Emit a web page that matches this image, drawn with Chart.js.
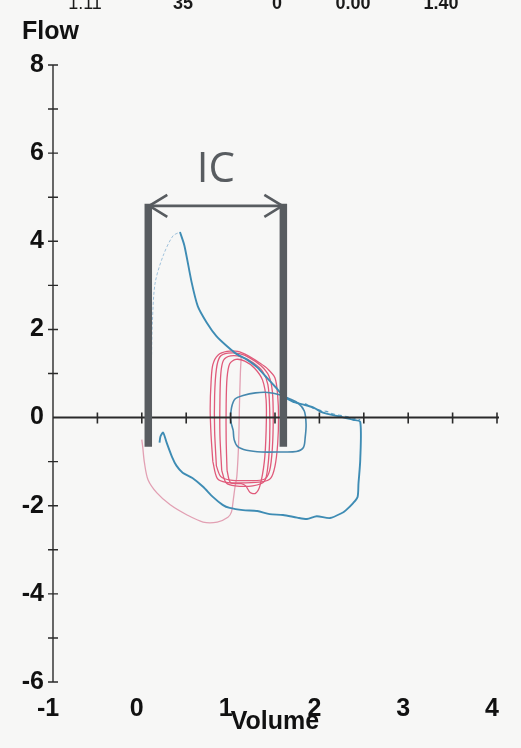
<!DOCTYPE html>
<html>
<head>
<meta charset="utf-8">
<script src="https://cdn.jsdelivr.net/npm/chart.js@4/dist/chart.umd.min.js"></script>
<style>
  html, body { margin: 0; padding: 0; background: #f7f7f6; }
  canvas { display: block; }
</style>
</head>
<body>
<canvas id="flowVolume" width="521" height="748"></canvas>
<script>
// Axis values
const volumeTicks = [-1, 0, 1, 2, 3, 4];
const flowTicks = [-6, -4, -2, 0, 2, 4, 6, 8];
const flowMarks = [-6, -5, -4, -3, -2, -1, 0, 1, 2, 3, 4, 5, 6, 7, 8];
const volumeMarks = [-0.5, 0, 0.5, 1, 1.5, 2, 2.5, 3, 3.5, 4];

// Values printed along the top edge of the sheet
const headerValues = ['1.11', '35', '0', '0.00', '1.40'];

// Maximal effort loop: [volume, flow]
const maxRise = [[0.10, -0.05], [0.10, 0.6], [0.11, 1.4], [0.12, 2.2], [0.15, 3.05], [0.24, 3.67], [0.35, 4.12], [0.43, 4.21]];
const maxLoop = [
  [0.43, 4.21], [0.48, 3.90], [0.56, 3.08], [0.63, 2.53], [0.73, 2.16], [0.84, 1.85], [0.96, 1.62],
  [1.07, 1.44], [1.18, 1.32], [1.30, 1.14], [1.41, 0.90], [1.52, 0.66], [1.59, 0.50], [1.70, 0.36],
  [1.81, 0.30], [1.93, 0.23], [2.04, 0.11], [2.23, 0.02], [2.38, -0.05], [2.46, -0.10], [2.46, -0.96],
  [2.44, -1.50], [2.43, -1.80], [2.38, -1.94], [2.30, -2.10], [2.26, -2.16], [2.12, -2.28], [1.97, -2.24],
  [1.86, -2.30], [1.75, -2.27], [1.59, -2.21], [1.44, -2.19], [1.30, -2.12], [1.14, -2.10], [0.99, -2.05],
  [0.91, -1.98], [0.80, -1.80], [0.69, -1.57], [0.57, -1.37], [0.46, -1.25], [0.39, -1.09], [0.34, -0.89],
  [0.28, -0.57], [0.24, -0.34], [0.21, -0.43], [0.20, -0.57]
];
const maxTail = [[1.84, 0.32], [1.92, 0.22], [2.00, 0.17], [2.08, 0.14], [2.16, 0.08], [2.26, 0.04], [2.36, 0.00], [2.46, -0.05]];

// Small loop after exercise
const smallLoop = [
  [1.03, -0.30], [1.00, -0.05], [1.01, 0.22], [1.05, 0.42], [1.14, 0.50], [1.28, 0.56], [1.42, 0.57],
  [1.55, 0.52], [1.66, 0.43], [1.76, 0.33], [1.83, 0.15], [1.85, -0.15], [1.84, -0.45], [1.82, -0.68],
  [1.74, -0.77], [1.55, -0.78], [1.35, -0.78], [1.18, -0.74], [1.08, -0.66], [1.04, -0.50], [1.03, -0.30]
];

// Tidal breaths at rest
const tidalA = [
  [0.80, -1.0], [0.78, -0.4], [0.77, 0.2], [0.78, 0.8], [0.80, 1.2], [0.86, 1.42], [0.96, 1.50], [1.08, 1.50],
  [1.20, 1.40], [1.32, 1.25], [1.42, 1.10], [1.50, 0.90], [1.53, 0.5], [1.54, 0.0], [1.53, -0.6], [1.50, -1.1],
  [1.45, -1.38], [1.35, -1.46], [1.15, -1.48], [0.95, -1.47], [0.85, -1.38], [0.80, -1.0]
];
const tidalB = [
  [0.84, -1.1], [0.82, -0.3], [0.82, 0.5], [0.84, 1.1], [0.88, 1.38], [0.97, 1.46], [1.10, 1.45], [1.22, 1.35],
  [1.34, 1.18], [1.43, 0.95], [1.47, 0.6], [1.48, 0.0], [1.47, -0.7], [1.44, -1.2], [1.38, -1.40], [1.20, -1.43],
  [1.00, -1.42], [0.89, -1.34], [0.84, -1.1]
];
const tidalC = [
  [0.90, -1.2], [0.88, -0.4], [0.88, 0.4], [0.89, 1.0], [0.92, 1.30], [1.00, 1.40], [1.12, 1.38], [1.25, 1.25],
  [1.36, 1.05], [1.42, 0.75], [1.44, 0.2], [1.44, -0.5], [1.42, -1.1], [1.38, -1.45], [1.25, -1.55], [1.05, -1.55],
  [0.95, -1.48], [0.90, -1.2]
];
const tidalD = [
  [0.96, -1.2], [0.95, -0.5], [0.95, 0.3], [0.96, 0.9], [0.99, 1.22], [1.06, 1.32], [1.16, 1.28], [1.27, 1.12],
  [1.36, 0.85], [1.40, 0.4], [1.40, -0.3], [1.38, -1.0], [1.33, -1.55], [1.28, -1.72], [1.22, -1.70], [1.17, -1.55],
  [1.12, -1.50], [1.00, -1.48], [0.96, -1.2]
];
const restMaxArc = [
  [0.00, -0.50], [0.01, -0.66], [0.03, -1.03], [0.07, -1.41], [0.17, -1.71], [0.32, -1.98], [0.51, -2.21],
  [0.69, -2.37], [0.85, -2.37], [0.97, -2.26], [1.01, -2.14], [1.03, -1.87], [1.05, -1.57], [1.07, -1.34],
  [1.09, -0.6], [1.10, 0.3], [1.11, 1.0], [1.12, 1.40]
];

// Inspiratory capacity bracket, in volume / flow units
const icLeftVolume = 0.073;
const icRightVolume = 1.594;
const icTopFlow = 4.85;
const icBottomFlow = -0.66;

const toPoints = pairs => pairs.map(([x, y]) => ({ x, y }));

function curve(pairs, color, width, extra) {
  return Object.assign({
    data: toPoints(pairs),
    showLine: true,
    borderColor: color,
    borderWidth: width,
    pointRadius: 0,
    tension: 0.3,
    fill: false
  }, extra || {});
}

const sheetPlugin = {
  id: 'sheet',
  beforeDraw(chart) {
    const { ctx } = chart;
    ctx.save();
    ctx.fillStyle = '#f7f7f6';
    ctx.fillRect(0, 0, chart.width, chart.height);
    ctx.fillStyle = '#1a1a1a';
    ctx.textAlign = 'center';
    ctx.textBaseline = 'alphabetic';
    const xs = [85, 183, 277, 353, 441];
    headerValues.forEach((t, i) => {
      ctx.font = (i === 0 ? '' : 'bold ') + '18px "Liberation Sans", Arial, sans-serif';
      ctx.fillText(t, xs[i], 9);
    });
    ctx.restore();
  }
};

const axesPlugin = {
  id: 'axesLines',
  afterDatasetsDraw(chart) {
    const { ctx, scales: { x, y } } = chart;
    const x0 = x.getPixelForValue(volumeTicks[0]);
    const y0 = y.getPixelForValue(0);
    ctx.save();
    ctx.strokeStyle = '#2a2a2a';
    ctx.lineWidth = 1.4;
    ctx.beginPath();
    ctx.moveTo(x0, y.getPixelForValue(flowTicks[flowTicks.length - 1]));
    ctx.lineTo(x0, y.getPixelForValue(flowTicks[0]));
    flowMarks.forEach(v => {
      if (v === 0) return;
      const py = y.getPixelForValue(v);
      ctx.moveTo(x0 - 5, py);
      ctx.lineTo(x0 + 5, py);
    });
    ctx.stroke();

    ctx.lineWidth = 1.9;
    ctx.beginPath();
    ctx.moveTo(x0, y0);
    ctx.lineTo(x.getPixelForValue(volumeTicks[volumeTicks.length - 1]) + 2, y0);
    ctx.stroke();
    ctx.lineWidth = 1.6;
    ctx.beginPath();
    volumeMarks.forEach(v => {
      const px = x.getPixelForValue(v);
      ctx.moveTo(px, y0 - 5);
      ctx.lineTo(px, y0 + 6);
    });
    ctx.stroke();
    ctx.restore();
  }
};

const icPlugin = {
  id: 'icBracket',
  afterDatasetsDraw(chart) {
    const { ctx, scales: { x, y } } = chart;
    const xl = x.getPixelForValue(icLeftVolume);
    const xr = x.getPixelForValue(icRightVolume);
    const yt = y.getPixelForValue(icTopFlow);
    const yb = y.getPixelForValue(icBottomFlow);
    const ya = yt + 2;
    ctx.save();
    ctx.strokeStyle = '#585c60';
    ctx.fillStyle = '#585c60';
    ctx.lineCap = 'butt';
    ctx.lineWidth = 7.5;
    ctx.beginPath();
    ctx.moveTo(xl, yt); ctx.lineTo(xl, yb);
    ctx.moveTo(xr, yt); ctx.lineTo(xr, yb);
    ctx.stroke();

    ctx.lineWidth = 2.6;
    ctx.beginPath();
    ctx.moveTo(xl, ya); ctx.lineTo(xr, ya);
    ctx.stroke();
    ctx.beginPath();
    ctx.moveTo(xl + 19, ya - 11); ctx.lineTo(xl + 1, ya); ctx.lineTo(xl + 19, ya + 11);
    ctx.moveTo(xr - 19, ya - 11); ctx.lineTo(xr - 1, ya); ctx.lineTo(xr - 19, ya + 11);
    ctx.stroke();

    ctx.font = '42px "Open Sans", "Liberation Sans", sans-serif';
    ctx.textAlign = 'center';
    ctx.textBaseline = 'alphabetic';
    ctx.fillText('IC', (xl + xr) / 2, yt - 22);
    ctx.restore();
  }
};

const blue = '#3e8cb4';
const red = '#e05a7a';

new Chart(document.getElementById('flowVolume'), {
  type: 'scatter',
  data: {
    datasets: [
      curve(maxRise, 'rgba(130,175,210,0.75)', 1, { borderDash: [3, 2], order: 1 }),
      curve(maxLoop, blue, 1.9, { order: 1, tension: 0.25 }),
      curve(maxTail, '#5fa3c8', 1.2, { borderDash: [4, 3], order: 1 }),
      curve(smallLoop, '#4688ae', 1.6, { order: 1 }),
      curve(tidalA, red, 1.3, { order: 2 }),
      curve(tidalB, red, 1.3, { order: 2 }),
      curve(tidalC, red, 1.3, { order: 2 }),
      curve(tidalD, red, 1.3, { order: 2 }),
      curve(restMaxArc, '#e2a0b3', 1.3, { order: 3 })
    ]
  },
  options: {
    responsive: false,
    animation: false,
    devicePixelRatio: 1,
    layout: { padding: { left: 22, right: 24, top: 0, bottom: 0 } },
    plugins: {
      legend: { display: false },
      tooltip: { enabled: false },
      title: {
        display: true,
        text: 'Flow',
        align: 'start',
        color: '#111',
        font: { family: '"Liberation Sans", Arial, sans-serif', size: 25, weight: 'bold' },
        padding: { top: 17, bottom: 18 }
      }
    },
    scales: {
      x: {
        type: 'linear',
        min: volumeTicks[0],
        max: volumeTicks[volumeTicks.length - 1],
        afterBuildTicks: s => { s.ticks = volumeTicks.map(v => ({ value: v })); },
        afterFit: s => { s.height = 66; },
        grid: { display: false, drawTicks: false },
        border: { display: false },
        ticks: {
          color: '#111',
          padding: 12,
          labelOffset: -5,
          maxRotation: 0,
          font: { family: '"Liberation Sans", Arial, sans-serif', size: 25, weight: 'bold' }
        },
        title: {
          display: true,
          text: 'Volume',
          color: '#111',
          font: { family: '"Liberation Sans", Arial, sans-serif', size: 25, weight: 'bold' },
          padding: { top: 0, bottom: 11 }
        }
      },
      y: {
        type: 'linear',
        min: flowTicks[0],
        max: flowTicks[flowTicks.length - 1],
        afterBuildTicks: s => { s.ticks = flowTicks.map(v => ({ value: v })); },
        afterFit: s => { s.width = 31; },
        grid: { display: false, drawTicks: false },
        border: { display: false },
        ticks: {
          color: '#111',
          padding: 9,
          font: { family: '"Liberation Sans", Arial, sans-serif', size: 25, weight: 'bold' }
        }
      }
    }
  },
  plugins: [sheetPlugin, axesPlugin, icPlugin]
});
</script>
</body>
</html>
